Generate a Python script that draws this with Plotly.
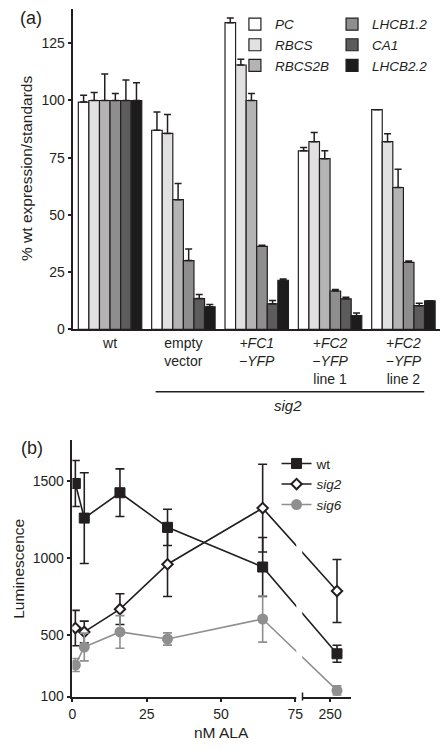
import plotly.graph_objects as go

# ---------------- Panel (a) data ----------------
groups = ["wt", "empty vector", "+FC1-YFP", "+FC2-YFP line 1", "+FC2-YFP line 2"]
group_labels = ["wt", "empty<br>vector", "<i>+FC1</i><br><i>\u2212YFP</i>",
                "<i>+FC2</i><br><i>\u2212YFP</i><br>line 1",
                "<i>+FC2</i><br><i>\u2212YFP</i><br>line 2"]
genes = ["PC", "RBCS", "RBCS2B", "LHCB1.2", "CA1", "LHCB2.2"]
pc = [99.3, 87, 134, 78, 96]
pc_err = [3, 8, 2, 1.5, 0]
rbcs = [100, 85.6, 115.5, 82, 82]
rbcs_err = [3.5, 8.3, 2.5, 4, 3.5]
rbcs2b = [100, 56.7, 100, 74.6, 62]
rbcs2b_err = [11.6, 7, 3, 3.5, 8]
lhcb12 = [100, 30.1, 36.3, 16.8, 29.3]
lhcb12_err = [3, 5, 0.5, 0.6, 0.6]
ca1 = [100, 13.5, 11.2, 13.4, 10.4]
ca1_err = [9, 1.8, 1.5, 0.7, 1]
lhcb22 = [100, 9.9, 21.5, 6, 12.5]
lhcb22_err = [7.7, 1, 0.5, 1.2, 0]
y_ticks_a = [0, 25, 50, 75, 100, 125]

# ---------------- Panel (b) data ----------------
ala_nM = [1, 4, 16, 32, 64, 250]
x_ticks_b = [0, 25, 50, 75, 250]
wt_lum = [1485, 1260, 1425, 1200, 942, 378]
wt_err = [150, 295, 155, 118, 192, 55]
sig2_lum = [545, 520, 668, 960, 1325, 786]
sig2_err = [115, 70, 100, 210, 285, 205]
sig6_lum = [305, 422, 520, 474, 604, 140]
sig6_err = [42, 90, 106, 40, 150, 30]
y_ticks_b = [100, 500, 1000, 1500]

FONT = "Liberation Sans, Arial, Helvetica, sans-serif"
INK = "#231f20"
W, H = 448, 754


def px_x(p):
    return p / W


def px_y(p):
    return 1 - p / H


def ala_pos(v):
    # broken axis: 0-75 linear, 250 placed after the break
    return v if v <= 75 else 89.0


def ala_tick_pos(v):
    return v if v <= 75 else 86.7


fig = go.Figure()

bar_colors = ["#ffffff", "#e1e1e1", "#b4b4b4", "#8e8e8e", "#5c5c5c", "#1c1c1c"]
bar_vals = [pc, rbcs, rbcs2b, lhcb12, ca1, lhcb22]
bar_errs = [pc_err, rbcs_err, rbcs2b_err, lhcb12_err, ca1_err, lhcb22_err]
for i, (g, v, e, c) in enumerate(zip(genes, bar_vals, bar_errs, bar_colors)):
    fig.add_trace(go.Bar(
        x=groups, y=v, name="<i>%s</i>" % g,
        marker=dict(color=c, line=dict(color=INK, width=1.2)),
        error_y=dict(type="data", array=e, arrayminus=[0] * len(e), symmetric=False,
                     color=INK, thickness=1.5, width=3.5),
        xaxis="x", yaxis="y",
        legend="legend" if i < 3 else "legend2",
    ))

# Panel (b) traces
series = [
    ("wt", wt_lum, wt_err, INK, dict(symbol="square", size=10, color=INK, line=dict(color=INK, width=1))),
    ("<i>sig2</i>", sig2_lum, sig2_err, INK, dict(symbol="diamond", size=8, color="white", line=dict(color=INK, width=2))),
    ("<i>sig6</i>", sig6_lum, sig6_err, "#8f8f8f", dict(symbol="circle", size=11, color="#8f8f8f", line=dict(width=0))),
]
for name, v, e, col, mk in series:
    fig.add_trace(go.Scatter(
        x=[ala_pos(a) for a in ala_nM], y=v, name=name, mode="lines+markers",
        line=dict(color=col, width=1.6), marker=mk,
        error_y=dict(type="data", array=e, color=col, thickness=1.6, width=4.5),
        xaxis="x2", yaxis="y2", legend="legend3",
    ))

axis_common = dict(showline=True, linecolor=INK, linewidth=1.5, showgrid=False,
                   zeroline=False, tickfont=dict(family=FONT, size=14, color=INK),
                   tickcolor=INK, tickwidth=1.5)

legend_common = dict(xanchor="left", yanchor="top", bgcolor="rgba(0,0,0,0)",
                     font=dict(family=FONT, size=13.5, color=INK),
                     itemwidth=30, tracegroupgap=0)

fig.update_layout(
    width=W, height=H, autosize=False,
    margin=dict(l=0, r=0, t=0, b=0),
    paper_bgcolor="white", plot_bgcolor="white",
    font=dict(family=FONT, size=14, color=INK),
    barmode="group", bargap=0.135, bargroupgap=0,
    xaxis=dict(domain=[px_x(70), px_x(440)], anchor="y", ticks="",
               tickvals=groups, ticktext=group_labels, **axis_common),
    yaxis=dict(domain=[px_y(333), px_y(9)], anchor="x", range=[0, 140],
               tickvals=y_ticks_a, ticks="outside", ticklen=4, **axis_common),
    xaxis2=dict(domain=[px_x(69), px_x(350)], anchor="y2", range=[0, 93.67],
                tickvals=[ala_tick_pos(t) for t in x_ticks_b],
                ticktext=[str(t) for t in x_ticks_b],
                ticks="outside", ticklen=4, **axis_common),
    yaxis2=dict(domain=[px_y(704), px_y(445)], anchor="x2", range=[100, 1766],
                tickvals=y_ticks_b, ticks="outside", ticklen=4, **axis_common),
    legend=dict(x=px_x(233), y=px_y(9), **legend_common),
    legend2=dict(x=px_x(331), y=px_y(9), **legend_common),
    legend3=dict(x=px_x(275), y=px_y(453), **legend_common),
)

# Axis break in panel (b)
fig.add_shape(type="rect", xref="x2", yref="paper", x0=75.3, x1=77.3,
              y0=px_y(709), y1=px_y(520), fillcolor="white", line=dict(width=0), layer="above")
fig.add_shape(type="line", xref="x2", yref="paper", x0=77.4, x1=77.4,
              y0=px_y(700), y1=px_y(708), line=dict(color=INK, width=1.5), layer="above")

# sig2 bracket line under panel (a)
fig.add_shape(type="line", xref="paper", yref="paper", x0=px_x(153), x1=px_x(424),
              y0=px_y(396), y1=px_y(396), line=dict(color=INK, width=1.5))

annotations = [
    dict(text="<i>sig2</i>", x=px_x(287), y=px_y(410), font=dict(size=15)),
    dict(text="(a)", x=px_x(27), y=px_y(18), font=dict(size=18)),
    dict(text="(b)", x=px_x(28), y=px_y(453), font=dict(size=18)),
    dict(text="% wt expression/standards", x=px_x(22), y=px_y(170), textangle=-90, font=dict(size=15.5)),
    dict(text="Luminescence", x=px_x(15), y=px_y(575), textangle=-90, font=dict(size=15.5)),
    dict(text="nM ALA", x=px_x(219), y=px_y(740), font=dict(size=15.5)),
]
for a in annotations:
    a.update(xref="paper", yref="paper", showarrow=False, xanchor="center", yanchor="middle")
    a["font"] = dict(family=FONT, color=INK, **a["font"])
    fig.add_annotation(**a)

# remove the browser's default 8px body margin so the 448x754 figure fills the window
fig.write_html("out.html", config={"displayModeBar": False},
               post_script="document.body.style.margin='0';")
